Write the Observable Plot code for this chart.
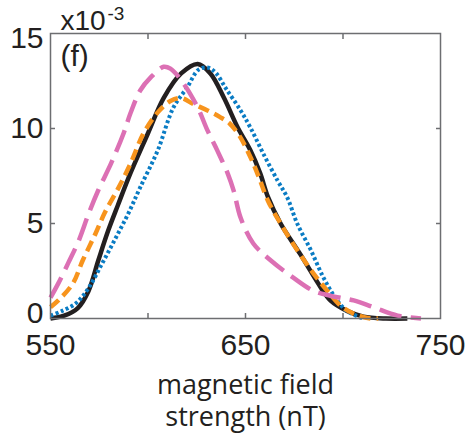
<!DOCTYPE html>
<html><head><meta charset="utf-8">
<script src="https://cdn.jsdelivr.net/npm/d3@7"></script>
<script src="https://cdn.jsdelivr.net/npm/@observablehq/plot@0.6"></script>
<style>body{margin:0;background:#fff} svg{display:block}</style>
</head><body><div id="chart"></div>
<script>
// magnetic field strength (nT) and density (x10^-3)
const blackX = [550, 557, 564, 569.5, 574.5, 579.5, 584.5, 591, 600, 608, 617, 625.5, 632, 639, 646, 652.5, 657.5, 661.5, 668, 678, 688.5, 693.5, 702, 710.5, 722, 733];
const blackY = [0, 0.15, 0.55, 1.45, 3.05, 4.6, 5.95, 7.65, 9.75, 11.6, 12.9, 13.4, 12.9, 11.6, 10.05, 8.85, 7.65, 6.4, 5.0, 3.4, 1.65, 0.95, 0.4, 0.1, 0, 0];

const blueX = [550, 556, 563, 569.5, 576.5, 583.5, 590, 596, 605, 613, 620, 626, 631, 635, 640, 647.5, 652.5, 659, 666.5, 671.5, 676.5, 683.5, 690, 697, 702, 709, 711];
const blueY = [0.15, 0.4, 0.8, 1.6, 2.9, 4.25, 5.55, 6.9, 8.85, 11.1, 12.15, 13.1, 13.2, 12.9, 12.1, 10.95, 10.05, 8.7, 7.25, 6.35, 5.0, 3.6, 2.15, 0.95, 0.4, 0.05, 0];

const orangeX = [550, 554, 561.5, 566.5, 573, 578, 585, 591, 597.5, 605, 611.5, 617, 623, 630.5, 637, 642, 647, 652.5, 657, 661.5, 668, 676.5, 685, 692, 698.5, 705.5, 714, 718];
const orangeY = [0.6, 0.95, 1.85, 3.05, 4.45, 5.6, 6.9, 8.15, 9.7, 10.85, 11.45, 11.6, 11.3, 10.95, 10.6, 10.25, 9.6, 8.5, 7.4, 6.2, 5.0, 3.6, 2.35, 1.45, 0.7, 0.25, 0, 0];

const pinkX = [550, 554, 559, 564.5, 569.5, 574.5, 581, 587.5, 591, 596, 601.5, 608, 611.5, 618, 625.5, 630.5, 635.5, 641, 644, 647.5, 654, 663, 674.5, 685, 693.5, 705.5, 715.5, 728, 740];
const pinkY = [1.1, 1.85, 2.9, 4.1, 5.5, 6.75, 8.15, 9.75, 10.8, 12.0, 12.7, 13.25, 13.15, 12.4, 11.1, 9.9, 8.85, 7.6, 6.7, 5.3, 3.95, 3.05, 2.15, 1.45, 1.2, 0.95, 0.6, 0.15, 0];

const xTickLabels = [550, 650, 750];
const xTicks = [600, 650, 700];
const yTickLow = [0];
const yTickMid = [5, 10];
const yTickHigh = [15];
const yTicks = [5, 10];
const exponentBase = "x10";
const exponentPower = "-3";
const panelLabel = "(f)";
const xLabel = "magnetic field\nstrength (nT)";

const rows = (xs, ys) => xs.map((x, i) => ({x, y: ys[i]}));
const ink = "#231f20";
const frameGray = "#6d6e71";
const lineStyle = {x: "x", y: "y", strokeWidth: 4.5, strokeLinecap: "butt", strokeLinejoin: "round", curve: "catmull-rom"};

const chart = Plot.plot({
  width: 467,
  height: 434,
  marginLeft: 50,
  marginRight: 27,
  marginTop: 33,
  marginBottom: 116,
  x: {domain: [550, 750]},
  y: {domain: [0, 15]},
  style: {fontFamily: "'Liberation Sans', Arial, sans-serif", fontSize: "30px", color: ink, background: "white", overflow: "visible"},
  marks: [
    Plot.line(rows(blackX, blackY), {...lineStyle, stroke: ink}),
    Plot.line(rows(blueX, blueY), {...lineStyle, stroke: "#0a7cc4", strokeWidth: 4, strokeDasharray: "3,2.5"}),
    Plot.line(rows(orangeX, orangeY), {...lineStyle, stroke: "#f7941d", strokeDasharray: "11,6"}),
    Plot.line(rows(pinkX, pinkY), {...lineStyle, stroke: "#dc70b4", strokeDasharray: "23,9"}),
    Plot.frame({stroke: frameGray, strokeWidth: 1.5}),
    Plot.axisX({ticks: xTickLabels, tickSize: 0, tickPadding: 15, label: null, fontSize: 30}),
    Plot.axisX({ticks: xTicks, anchor: "bottom", tickSize: -5, tickFormat: () => "", label: null, stroke: frameGray, strokeWidth: 1.5}),
    Plot.axisX({ticks: xTicks, anchor: "top", tickSize: -5, tickFormat: () => "", label: null, stroke: frameGray, strokeWidth: 1.5}),
    Plot.axisY({ticks: yTickLow, tickSize: 0, tickPadding: 7, dy: -5, label: null, fontSize: 30}),
    Plot.axisY({ticks: yTickMid, tickSize: 0, tickPadding: 7, label: null, fontSize: 30}),
    Plot.axisY({ticks: yTickHigh, tickSize: 0, tickPadding: 7, dy: 5, label: null, fontSize: 30}),
    Plot.axisY({ticks: yTicks, anchor: "left", tickSize: -5, tickFormat: () => "", label: null, stroke: frameGray, strokeWidth: 1.5}),
    Plot.axisY({ticks: yTicks, anchor: "right", tickSize: -5, tickFormat: () => "", label: null, stroke: frameGray, strokeWidth: 1.5}),
    Plot.text([exponentBase], {frameAnchor: "top-left", textAnchor: "start", lineAnchor: "bottom", dx: 10, dy: -4, fontSize: 28, fill: ink}),
    Plot.text([exponentPower], {frameAnchor: "top-left", textAnchor: "start", lineAnchor: "bottom", dx: 57, dy: -14, fontSize: 19, fill: ink}),
    Plot.text([panelLabel], {frameAnchor: "top-left", textAnchor: "start", lineAnchor: "top", dx: 10, dy: 11, fontSize: 30, fill: ink}),
    Plot.text([xLabel], {frameAnchor: "bottom", lineAnchor: "top", dy: 52, fontSize: 27, lineHeight: 1.2, fontFamily: "'Open Sans', sans-serif", fill: ink})
  ]
});
document.getElementById("chart").append(chart);
</script>
</body></html>
